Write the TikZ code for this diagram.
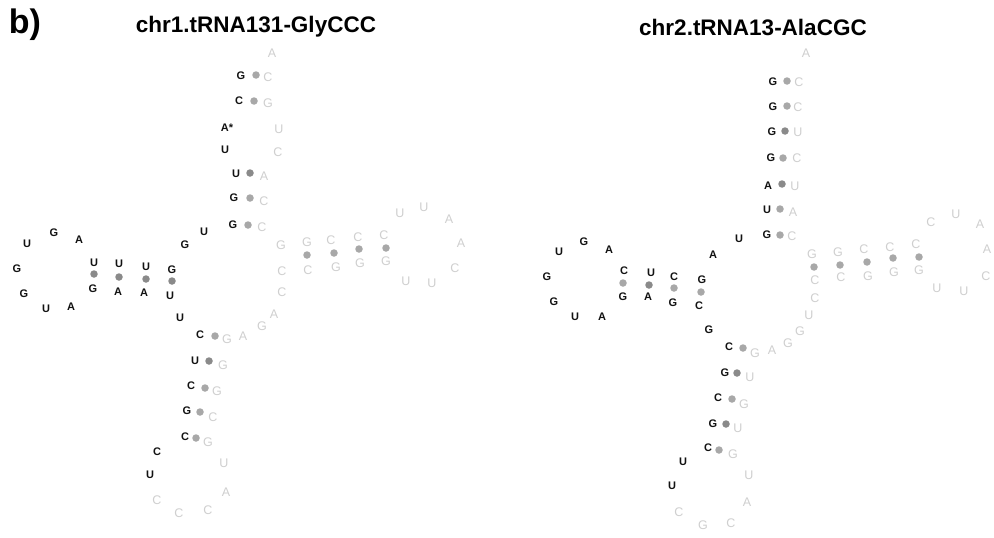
\documentclass[tikz,border=0pt]{standalone}
\usepackage{fontspec}
\setmainfont{Liberation Sans}
\definecolor{lg}{HTML}{CFCFCF}
\definecolor{dl}{HTML}{A8A8A8}
\definecolor{dd}{HTML}{8A8A8A}
\tikzset{
  nb/.style={font=\fontsize{11}{11}\selectfont\bfseries, text=black!93, inner sep=0pt},
  ng/.style={font=\fontsize{12.5}{12.5}\selectfont, text=lg, inner sep=0pt},
  pl/.style={circle, fill=dl, inner sep=0pt, minimum size=7.5pt},
  pd/.style={circle, fill=dd, inner sep=0pt, minimum size=7.5pt},
  ttl/.style={font=\fontsize{22.5}{22.5}\selectfont\bfseries, inner sep=0pt},
}
\begin{document}
\begin{tikzpicture}[x=1pt,y=-1pt]
\useasboundingbox[fill=white] (0,0) rectangle (994,538);
\node[font=\fontsize{34}{34}\selectfont\bfseries, inner sep=0pt] (lab) at (25,25) {b)};
\node[ttl] (t1) at (256,27) {chr1.tRNA131-GlyCCC};
\node[ttl] (t2) at (753,27) {chr2.tRNA13-AlaCGC};
% ---------- left structure: black nucleotides
\foreach \t/\x/\y [count=\i] in {
  G/241/76, C/239/101, A*/227/128, U/225/150, U/236/174, G/234/198, G/233/225,
  U/204/232, G/185/245,
  G/172/270, U/146/267, U/119/264, U/94/263,
  A/79/240, G/54/233, U/27/244, G/17/269, G/24/294, U/46/309, A/71/307,
  G/93/289, A/118/292, A/144/293, U/170/296, U/180/318,
  C/200/335, U/195/361, C/191/386, G/187/411, C/185/437, C/157/452, U/150/475}
  \node[nb] (lb\i) at (\x,\y) {\t};
% left structure: gray nucleotides
\foreach \t/\x/\y [count=\i] in {
  A/272/53, C/268/77, G/268/103, U/279/129, C/278/152, A/264/176, C/264/201, C/262/227,
  G/281/245, C/282/271, C/282/292, A/274/314, G/262/326, A/243/336,
  G/227/339, G/223/365, G/217/391, C/213/417, G/208/442,
  U/224/463, A/226/492, C/208/510, C/179/513, C/157/500,
  G/307/242, C/331/240, C/358/237, C/384/235,
  C/308/270, G/336/267, G/360/263, G/386/261,
  U/406/281, U/432/283, C/455/268, A/461/243, A/449/219, U/424/207, U/400/213}
  \node[ng] (lg\i) at (\x,\y) {\t};
% left structure: pair dots
\foreach \s/\x/\y [count=\i] in {
  pl/256/75, pl/254/101, pd/250/173, pl/250/198, pl/248/225,
  pd/172/281, pd/146/279, pd/119/277, pd/94/274,
  pl/215/336, pd/209/361, pl/205/388, pl/200/412, pl/196/438,
  pl/307/255, pl/334/253, pl/359/249, pl/386/248}
  \node[\s] (ld\i) at (\x,\y) {};
% ---------- right structure: black nucleotides
\foreach \t/\x/\y [count=\i] in {
  G/773/82, G/773/107, G/772/132, G/771/158, A/768/186, U/767/210, G/767/235,
  U/739/239, A/713/255,
  G/702/280, C/674/277, U/651/273, C/624/271,
  A/609/250, G/584/242, U/559/252, G/547/277, G/554/302, U/575/317, A/602/317,
  G/623/297, A/648/297, G/673/303, C/699/306, G/709/330,
  C/729/347, G/725/373, C/718/398, G/713/424, C/708/448, U/683/462, U/672/486}
  \node[nb] (rb\i) at (\x,\y) {\t};
% right structure: gray nucleotides
\foreach \t/\x/\y [count=\i] in {
  A/806/53, C/799/82, C/798/107, U/798/132, C/797/158, U/795/186, A/793/212, C/792/236,
  G/812/254, C/815/280, C/815/298, U/809/315, G/800/331, G/788/343, A/772/350,
  G/755/353, U/750/377, G/744/404, U/738/428, G/733/454,
  U/749/475, A/747/502, C/731/523, G/703/525, C/679/512,
  G/838/252, C/864/249, C/890/247, C/916/244,
  C/841/277, G/868/276, G/894/272, G/919/270,
  U/937/288, U/964/291, C/986/276, A/987/249, A/980/224, U/956/214, C/931/222}
  \node[ng] (rg\i) at (\x,\y) {\t};
% right structure: pair dots
\foreach \s/\x/\y [count=\i] in {
  pl/787/81, pl/787/106, pd/785/131, pl/783/158, pd/782/184, pl/780/209, pl/780/235,
  pl/701/292, pl/674/288, pd/649/285, pl/623/283,
  pl/743/348, pd/737/373, pl/732/399, pd/726/424, pl/719/450,
  pl/814/267, pl/840/265, pl/867/262, pl/893/258, pl/919/257}
  \node[\s] (rd\i) at (\x,\y) {};
\end{tikzpicture}
\end{document}
